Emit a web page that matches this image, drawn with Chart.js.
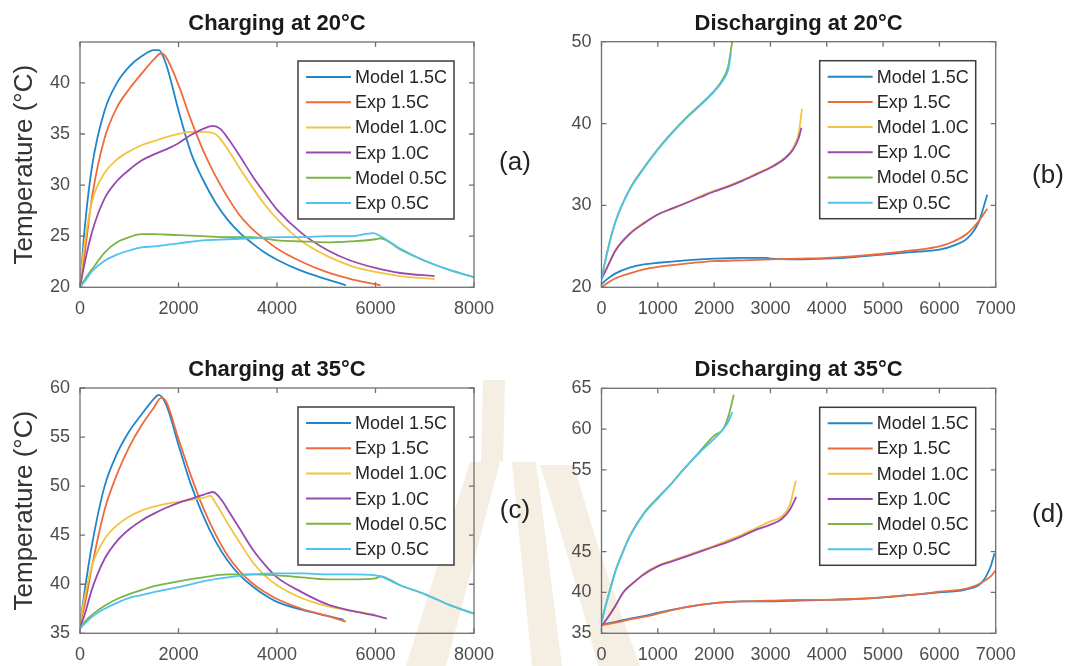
<!DOCTYPE html>
<html>
<head>
<meta charset="utf-8">
<script src="https://cdn.jsdelivr.net/npm/chart.js@4.4.0/dist/chart.umd.min.js"></script>
<style>
html, body { margin: 0; padding: 0; background: #fff; }
#wrap { position: relative; width: 1076px; height: 666px; overflow: hidden; }
#wrap canvas, #mark { position: absolute; }
</style>
</head>
<body>
<div id="wrap">
<svg id="mark" width="1076" height="666" style="left:0;top:0">
  <g fill="#f5eee2">
    <polygon points="483,380 505,380 503,462 481,462"/>
    <polygon points="470,462 500,462 446,666 406,666"/>
    <polygon points="512,462 536,462 562,666 532,666"/>
    <path d="M540,465 L574,465 Q600,560 640,666 L598,666 Q570,560 540,465 Z"/>
  </g>
</svg>
<canvas id="pa" width="540" height="333" style="left:0;top:0"></canvas>
<canvas id="pb" width="536" height="333" style="left:540px;top:0"></canvas>
<canvas id="pc" width="540" height="333" style="left:0;top:333px"></canvas>
<canvas id="pd" width="536" height="333" style="left:540px;top:333px"></canvas>
</div>
<script>
// series order is the same in every panel
const seriesNames = ['Model 1.5C', 'Exp 1.5C', 'Model 1.0C', 'Exp 1.0C', 'Model 0.5C', 'Exp 0.5C'];
const seriesColors = ['#1f86cb', '#ee6b3b', '#f2c440', '#984aae', '#7bb443', '#4fc2ef'];

// [time (s), temperature (°C)]
// (a) charging at 20°C
const chg20Model15 = [[0,20],[100,26],[250,32],[500,37.3],[750,40],[1000,41.6],[1250,42.6],[1500,43.2],[1600,43.2],[1750,41.8],[2000,37.3],[2250,33.2],[2500,30.5],[2750,28.3],[3000,26.6],[3250,25.3],[3500,24.3],[3750,23.4],[4000,22.7],[4500,21.6],[5000,20.8],[5400,20.2]];
const chg20Exp15 = [[0,20],[100,23.5],[250,29],[500,34.6],[750,37.6],[1000,39.4],[1250,40.9],[1500,42.3],[1650,42.9],[1750,42.5],[2000,39.8],[2250,36.4],[2500,33.4],[2750,30.9],[3000,28.8],[3250,27.0],[3500,25.7],[3750,24.7],[4000,23.8],[4500,22.5],[5000,21.5],[5500,20.8],[6000,20.3],[6100,20.2]];
const chg20Model10 = [[0,20.5],[100,24.5],[250,28.5],[500,31.2],[750,32.5],[1000,33.3],[1250,33.9],[1500,34.3],[1750,34.7],[2000,35.0],[2250,35.2],[2500,35.2],[2750,35.0],[2850,34.5],[3000,33.5],[3250,31.6],[3500,29.8],[3750,28.1],[4000,26.7],[4500,24.5],[5000,23.1],[5500,22.1],[6000,21.5],[6500,21.1],[7200,20.8]];
const chg20Exp10 = [[0,20],[100,22.5],[250,25.5],[500,28.7],[750,30.4],[1000,31.5],[1250,32.4],[1500,33.0],[1750,33.5],[2000,34.1],[2250,34.9],[2500,35.5],[2700,35.8],[2850,35.5],[3000,34.6],[3250,32.8],[3500,30.9],[3750,29.2],[4000,27.6],[4500,25.3],[5000,23.7],[5500,22.6],[6000,21.9],[6500,21.4],[7200,21.1]];
const chg20Model05 = [[0,20],[100,20.8],[250,21.8],[500,23.4],[750,24.4],[1000,24.9],[1250,25.2],[1500,25.2],[2000,25.1],[2500,25.0],[3000,24.9],[3500,24.9],[4000,24.6],[4500,24.5],[5000,24.4],[5500,24.5],[6000,24.7],[6100,24.8],[6500,23.7],[7000,22.6],[7500,21.7],[8000,21.0]];
const chg20Exp05 = [[0,20],[100,20.6],[250,21.6],[500,22.6],[750,23.2],[1000,23.6],[1250,23.9],[1500,24.0],[2000,24.3],[2500,24.6],[3000,24.7],[3500,24.8],[4000,24.9],[4500,24.9],[5000,25.0],[5500,25.0],[5950,25.3],[6100,25.0],[6500,23.8],[7000,22.6],[7500,21.7],[8000,21.0]];

// (b) discharging at 20°C
const dis20Model15 = [[0,20.4],[100,21],[250,21.7],[500,22.4],[750,22.8],[1000,23.0],[1500,23.3],[2000,23.5],[2500,23.6],[2900,23.6],[3000,23.5],[3500,23.4],[4000,23.5],[4500,23.7],[5000,24.0],[5500,24.3],[6000,24.6],[6250,25.1],[6500,26.0],[6700,28.0],[6850,31.3]];
const dis20Exp15 = [[0,20],[100,20.5],[250,21.1],[500,21.7],[750,22.2],[1000,22.5],[1500,22.9],[2000,23.2],[2500,23.3],[3000,23.4],[3500,23.5],[4000,23.6],[4500,23.8],[5000,24.1],[5500,24.5],[6000,25.0],[6250,25.6],[6500,26.6],[6700,28.1],[6850,29.6]];
const dis20Model10 = [[0,21],[100,22.5],[250,24.6],[500,26.6],[750,27.9],[1000,28.9],[1250,29.6],[1500,30.3],[1750,31.1],[2000,31.8],[2250,32.4],[2500,33.1],[2750,33.9],[3000,34.7],[3250,35.8],[3400,37.0],[3500,38.8],[3560,41.8]];
const dis20Exp10 = [[0,21],[100,22.4],[250,24.5],[500,26.5],[750,27.8],[1000,28.9],[1250,29.6],[1500,30.3],[1750,31.0],[2000,31.7],[2250,32.3],[2500,33.0],[2750,33.8],[3000,34.6],[3250,35.7],[3400,36.8],[3500,38.2],[3550,39.5]];
const dis20Model05 = [[0,21],[100,24.3],[250,28.1],[500,32.0],[750,34.6],[1000,36.9],[1250,38.9],[1500,40.7],[1750,42.3],[2000,44.0],[2150,45.4],[2250,47.0],[2320,50.0]];
const dis20Exp05 = [[0,21],[100,24.2],[250,28.0],[500,31.9],[750,34.5],[1000,36.8],[1250,38.8],[1500,40.6],[1750,42.2],[2000,43.9],[2150,45.2],[2250,46.6],[2300,48.6]];

// (c) charging at 35°C
const chg35Model15 = [[0,35.8],[100,39.5],[250,44.2],[500,50],[750,53.3],[1000,55.6],[1250,57.3],[1500,58.9],[1600,59.3],[1750,58.3],[2000,54.2],[2250,50.2],[2500,47.0],[2750,44.4],[3000,42.4],[3250,40.9],[3500,39.8],[3750,38.9],[4000,38.2],[4500,37.4],[5000,36.8],[5350,36.4]];
const chg35Exp15 = [[0,35.8],[100,38],[250,42],[500,47.6],[750,51.2],[1000,54.0],[1250,56.2],[1500,58.0],[1650,59.0],[1750,58.6],[2000,54.8],[2250,51.1],[2500,47.8],[2750,45.1],[3000,42.9],[3250,41.3],[3500,40.1],[3750,39.2],[4000,38.5],[4500,37.5],[5000,36.8],[5400,36.2]];
const chg35Model10 = [[0,36],[100,38.8],[250,42],[500,44.6],[750,46.0],[1000,46.9],[1250,47.5],[1500,47.9],[1750,48.2],[2000,48.4],[2250,48.6],[2500,48.8],[2650,49.0],[2750,48.3],[3000,46.2],[3250,44.2],[3500,42.3],[3750,40.9],[4000,39.9],[4500,38.6],[5000,37.8],[5500,37.3],[6000,36.9]];
const chg35Exp10 = [[0,35.5],[100,37],[250,39.6],[500,42.6],[750,44.4],[1000,45.6],[1250,46.5],[1500,47.2],[1750,47.8],[2000,48.3],[2250,48.7],[2500,49.1],[2700,49.4],[2900,48.4],[3000,47.6],[3250,45.6],[3500,43.6],[3750,42.0],[4000,40.7],[4500,39.2],[5000,38.0],[5500,37.3],[6000,36.8],[6230,36.5]];
const chg35Model05 = [[0,35.5],[100,36.2],[250,36.9],[500,37.8],[750,38.5],[1000,39.0],[1250,39.4],[1500,39.8],[2000,40.3],[2500,40.7],[3000,41.0],[3500,41.0],[4000,40.9],[4500,40.7],[5000,40.5],[5500,40.5],[6000,40.6],[6100,40.8],[6500,39.9],[7000,39.0],[7500,37.9],[8000,37.0]];
const chg35Exp05 = [[0,35.5],[100,36],[250,36.7],[500,37.5],[750,38.1],[1000,38.6],[1250,38.9],[1500,39.2],[2000,39.7],[2500,40.3],[3000,40.7],[3500,41.0],[4000,41.1],[4500,41.1],[5000,41.0],[5500,41.0],[6000,40.9],[6100,40.8],[6500,39.9],[7000,39.0],[7500,37.9],[8000,37.0]];

// (d) discharging at 35°C
const dis35Model15 = [[0,36.1],[250,36.4],[500,36.8],[750,37.1],[1000,37.5],[1500,38.2],[2000,38.7],[2500,38.9],[3000,38.9],[3500,39.0],[4000,39.1],[4500,39.2],[5000,39.4],[5500,39.7],[6000,40.0],[6500,40.4],[6750,41.2],[6900,43.0],[6980,44.8]];
const dis35Exp15 = [[0,36],[250,36.3],[500,36.7],[750,37.0],[1000,37.4],[1500,38.2],[2000,38.7],[2500,38.9],[3000,39.0],[3500,39.1],[4000,39.1],[4500,39.2],[5000,39.4],[5500,39.7],[6000,40.1],[6500,40.5],[6750,41.2],[6900,41.9],[7000,42.7]];
const dis35Model10 = [[0,35.9],[100,36.8],[250,38.4],[385,40],[500,40.8],[620,41.5],[750,42.3],[1000,43.3],[1250,43.9],[1500,44.5],[1750,45.1],[2000,45.7],[2250,46.4],[2500,47.1],[2750,47.9],[3000,48.7],[3200,49.3],[3350,50.8],[3400,52.2],[3450,53.7]];
const dis35Exp10 = [[0,35.9],[100,36.8],[250,38.4],[385,40],[500,40.8],[620,41.5],[750,42.2],[1000,43.2],[1250,43.8],[1500,44.4],[1750,45.0],[2000,45.6],[2250,46.2],[2500,46.9],[2750,47.7],[3000,48.3],[3200,49.0],[3350,50.2],[3460,51.7]];
const dis35Model05 = [[0,36.4],[100,39.1],[250,42.7],[385,45.1],[500,46.9],[750,49.7],[1000,51.6],[1250,53.4],[1450,55],[1750,57.3],[2000,59.2],[2160,60.0],[2250,61.5],[2350,64.2]];
const dis35Exp05 = [[0,36.4],[100,39.0],[250,42.6],[385,45.0],[500,46.8],[750,49.6],[1000,51.5],[1250,53.4],[1450,55],[1750,57.2],[2000,58.8],[2160,60.0],[2250,60.9],[2325,62.1]];

// axis ticks
const chgXTicks = [0, 2000, 4000, 6000, 8000];
const disXTicks = [0, 1000, 2000, 3000, 4000, 5000, 6000, 7000];
const chg20YTicks = [20, 25, 30, 35, 40];
const dis20YTicks = [20, 30, 40, 50];
const chg35YTicks = [35, 40, 45, 50, 55, 60];
const dis35YTicks = [35, 40, 45, 50, 55, 60, 65];
const dis35YLabels = ['35', '40', '45', '', '55', '60', '65'];

const FONT = '"Liberation Sans", Arial, Helvetica, sans-serif';

// Matlab style box, inward ticks, legend and panel tag
const boxPlugin = {
  id: 'box',
  afterDraw(chart, args, opts) {
    const ctx = chart.ctx;
    const a = chart.chartArea;
    const xs = chart.scales.x, ys = chart.scales.y;
    ctx.save();
    ctx.strokeStyle = '#707070';
    ctx.lineWidth = 1.3;
    ctx.strokeRect(a.left, a.top, a.right - a.left, a.bottom - a.top);
    ctx.beginPath();
    xs.ticks.forEach(t => {
      const px = xs.getPixelForValue(t.value);
      ctx.moveTo(px, a.bottom); ctx.lineTo(px, a.bottom - 5);
      ctx.moveTo(px, a.top); ctx.lineTo(px, a.top + 5);
    });
    ys.ticks.forEach(t => {
      const py = ys.getPixelForValue(t.value);
      ctx.moveTo(a.left, py); ctx.lineTo(a.left + 5, py);
      ctx.moveTo(a.right, py); ctx.lineTo(a.right - 5, py);
    });
    ctx.stroke();

    // legend box
    const w = 156, h = 158;
    const lx = a.right - 20 - w, ly = a.top + 19;
    ctx.fillStyle = '#fff';
    ctx.fillRect(lx, ly, w, h);
    ctx.strokeStyle = '#3c3c3c';
    ctx.lineWidth = 1.5;
    ctx.strokeRect(lx, ly, w, h);
    ctx.font = '18px ' + FONT;
    ctx.textBaseline = 'middle';
    ctx.textAlign = 'left';
    chart.data.datasets.forEach((ds, i) => {
      const ry = ly + 16 + i * 25.2;
      ctx.strokeStyle = ds.borderColor;
      ctx.lineWidth = 2;
      ctx.beginPath();
      ctx.moveTo(lx + 8, ry); ctx.lineTo(lx + 53, ry);
      ctx.stroke();
      ctx.fillStyle = '#262626';
      ctx.fillText(ds.label, lx + 57, ry + 1);
    });

    // panel tag
    ctx.font = '26px ' + FONT;
    ctx.fillStyle = '#222';
    ctx.textAlign = 'center';
    ctx.fillText(opts.tag, opts.tagX, opts.tagY);
    ctx.restore();
  }
};

function makePanel(id, p) {
  const yLabelOf = v => {
    const i = p.yTicks.indexOf(v);
    return p.yLabels ? p.yLabels[i] : String(v);
  };
  new Chart(document.getElementById(id), {
    type: 'line',
    data: {
      datasets: p.series.map((s, i) => ({
        label: seriesNames[i],
        data: s.map(d => ({ x: d[0], y: d[1] })),
        borderColor: seriesColors[i],
        borderWidth: 1.8,
        pointRadius: 0,
        fill: false,
        cubicInterpolationMode: 'monotone',
        order: 6 - i
      }))
    },
    options: {
      responsive: false,
      animation: false,
      devicePixelRatio: 1,
      layout: { padding: { left: 0, top: 0, right: p.padRight, bottom: 0 } },
      plugins: {
        legend: { display: false },
        tooltip: { enabled: false },
        title: {
          display: true, text: p.title, fullSize: false, color: '#1a1a1a',
          font: { family: FONT, size: 22, weight: 'bold' },
          padding: { top: p.titleTop, bottom: p.titleBottom }
        },
        box: { tag: p.tag, tagX: p.tagX, tagY: p.tagY }
      },
      scales: {
        x: {
          type: 'linear', min: 0, max: p.xMax,
          grid: { display: false, drawTicks: false }, border: { display: false },
          afterBuildTicks: s => { s.ticks = p.xTicks.map(v => ({ value: v })); },
          afterFit: s => { s.height = p.xH; },
          ticks: { font: { family: FONT, size: 18 }, color: '#4d4d4d', padding: 11, maxRotation: 0, autoSkip: false, callback: v => String(v) }
        },
        y: {
          type: 'linear', min: p.yMin, max: p.yMax,
          grid: { display: false, drawTicks: false }, border: { display: false },
          afterBuildTicks: s => { s.ticks = p.yTicks.map(v => ({ value: v })); },
          afterFit: s => { s.width = p.yW; },
          ticks: { font: { family: FONT, size: 18 }, color: '#4d4d4d', padding: 10, autoSkip: false, callback: v => yLabelOf(v) },
          title: {
            display: !!p.yTitle, text: p.yTitle || '', color: '#333',
            font: { family: FONT, size: 26 }, padding: { top: 9, bottom: 0 }
          }
        }
      }
    },
    plugins: [boxPlugin]
  });
}

makePanel('pa', {
  title: 'Charging at 20°C', titleTop: 10.8, titleBottom: 4.8,
  series: [chg20Model15, chg20Exp15, chg20Model10, chg20Exp10, chg20Model05, chg20Exp05],
  xMax: 8000, xTicks: chgXTicks, yMin: 20, yMax: 44, yTicks: chg20YTicks,
  yTitle: 'Temperature (°C)', yW: 80, xH: 45.7, padRight: 66,
  tag: '(a)', tagX: 515, tagY: 163
});
makePanel('pb', {
  title: 'Discharging at 20°C', titleTop: 10.5, titleBottom: 4.8,
  series: [dis20Model15, dis20Exp15, dis20Model10, dis20Exp10, dis20Model05, dis20Exp05],
  xMax: 7000, xTicks: disXTicks, yMin: 20, yMax: 50, yTicks: dis20YTicks,
  yW: 61.5, xH: 45.7, padRight: 80.3,
  tag: '(b)', tagX: 508, tagY: 176
});
makePanel('pc', {
  title: 'Charging at 35°C', titleTop: 23.3, titleBottom: 5.3,
  series: [chg35Model15, chg35Exp15, chg35Model10, chg35Exp10, chg35Model05, chg35Exp05],
  xMax: 8000, xTicks: chgXTicks, yMin: 35, yMax: 60, yTicks: chg35YTicks,
  yTitle: 'Temperature (°C)', yW: 80, xH: 32.7, padRight: 66,
  tag: '(c)', tagX: 515, tagY: 178
});
makePanel('pd', {
  title: 'Discharging at 35°C', titleTop: 23.6, titleBottom: 5.3,
  series: [dis35Model15, dis35Exp15, dis35Model10, dis35Exp10, dis35Model05, dis35Exp05],
  xMax: 7000, xTicks: disXTicks, yMin: 35, yMax: 65, yTicks: dis35YTicks, yLabels: dis35YLabels,
  yW: 61.5, xH: 32.7, padRight: 80.3,
  tag: '(d)', tagX: 508, tagY: 182
});
</script>
</body>
</html>
